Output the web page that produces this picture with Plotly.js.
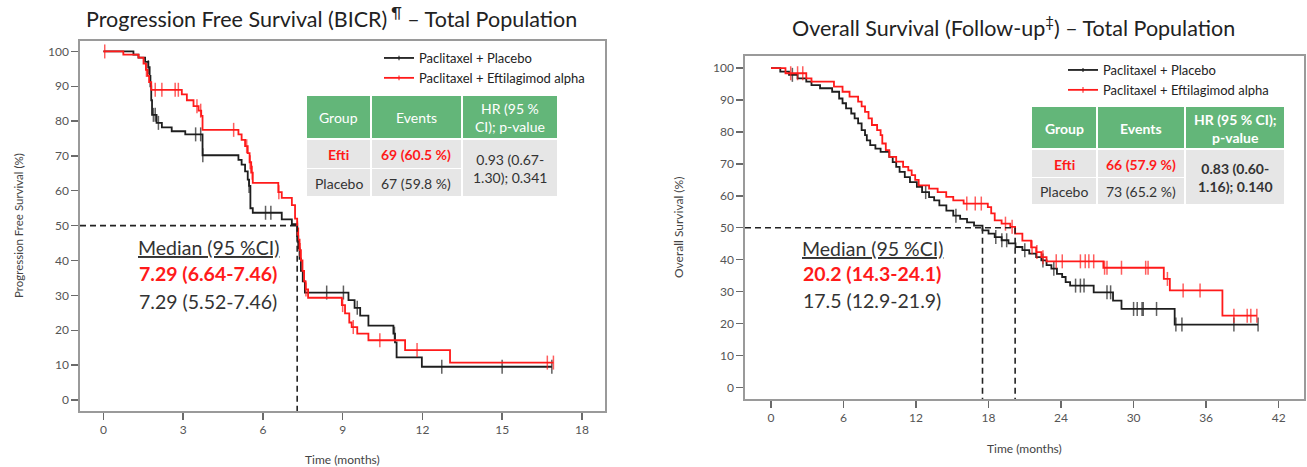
<!DOCTYPE html>
<html><head><meta charset="utf-8">
<script src="https://cdn.plot.ly/plotly-3.0.1.min.js"></script>
<style>html,body{margin:0;padding:0;background:#fff}#chart{width:1307px;height:467px}</style>
</head><body><div id="chart"></div>
<script>
// ---------------- DATA ----------------
const seriesNames = ['Paclitaxel + Placebo', 'Paclitaxel + Eftilagimod alpha'];

// PFS (BICR) - Placebo
const pfsPlaceboT = [0,1.13,1.32,1.57,1.69,1.74,1.77,1.80,1.83,2.0,2.2,2.57,3.08,3.73,5.08,5.20,5.33,5.43,5.48,5.53,5.62,6.71,7.09,7.29,7.33,7.38,7.43,7.50,7.58,9.22,9.45,9.66,9.97,10.91,10.97,11.03,11.98];
const pfsPlaceboS = [100,99.1,98.2,97.0,95.5,93.0,90.0,86.0,81.8,79.5,78.2,77.1,76.2,70.2,68.9,67.5,65.6,63.2,61.4,55.0,53.7,51.8,50.4,47.0,43.5,40.5,37.0,34.0,30.8,28.6,26.4,24.2,21.3,19.0,16.5,12.2,9.5];
const pfsPlaceboCens = [1.69,1.88,1.95,2.07,3.47,3.66,3.74,5.48,6.1,6.3,7.3,8.4,9.03,9.55,10.95,12.73,15.0,16.87];
const pfsPlaceboEnd = 16.87;

// PFS (BICR) - Eftilagimod alpha
const pfsEftiT = [0,0.75,1.32,1.51,1.60,1.66,1.72,1.80,2.95,3.14,3.39,3.58,3.68,3.73,5.08,5.20,5.33,5.43,5.50,5.56,5.62,6.58,6.71,7.09,7.21,7.29,7.33,7.38,7.43,7.49,7.55,7.61,7.70,8.97,9.09,9.25,9.34,9.55,9.97,11.35,13.04];
const pfsEftiS = [100,99.1,98.2,96.5,94.7,93.0,91.2,89.0,87.7,86.0,84.3,83.0,81.5,77.5,76.2,74.6,72.8,70.8,68.2,65.2,62.3,59.6,58.0,55.9,52.0,49.2,46.0,43.0,40.0,37.0,34.0,31.7,29.3,27.2,24.8,22.2,20.9,19.0,17.1,14.3,10.7];
const pfsEftiCens = [0.05,1.62,1.95,2.2,2.7,2.82,3.52,3.66,4.9,5.39,5.52,5.60,6.6,7.3,7.4,7.62,9.0,9.4,10.4,11.8,16.7,16.93];
const pfsEftiEnd = 16.93;

// OS (Follow-up) - Placebo
const osPlaceboT = [0,0.77,1.49,2.20,2.92,3.35,4.06,5.06,5.64,5.92,6.21,6.64,6.92,7.21,7.50,7.78,7.93,8.21,8.64,9.07,9.79,10.07,10.36,10.64,11.07,11.5,12.07,12.5,13.08,13.5,13.93,14.51,15.08,15.65,16.22,16.8,17.5,18.0,18.51,19.08,19.65,20.23,20.8,21.37,21.94,22.37,22.8,23.2,23.66,24.09,24.38,24.75,26.7,28.3,29.0,33.4];
const osPlaceboS = [100,98.9,97.9,96.8,95.8,94.7,93.7,92.6,90.5,89.0,87.4,85.8,84.3,82.7,80.6,79.0,77.4,75.9,74.8,73.8,72.2,70.6,69.1,67.5,65.9,64.3,62.8,61.2,59.6,58.6,57.0,55.4,53.8,52.8,51.7,50.7,49.2,48.2,47.1,46.1,45.1,44.0,43.0,41.9,40.8,39.8,38.3,37.2,35.6,34.6,33.0,31.9,29.8,27.2,24.6,19.7];
const osPlaceboCens = [1.77,12.8,15.3,18.6,19.1,19.5,21.0,22.5,23.4,25.2,25.6,25.9,27.8,28.1,30.0,30.3,30.7,30.8,31.9,33.5,34.0,38.3,40.3];
const osPlaceboEnd = 40.3;

// OS (Follow-up) - Eftilagimod alpha
const osEftiT = [0,1.2,2.92,3.35,5.21,5.92,6.50,7.21,7.50,7.78,8.07,8.35,8.78,9.07,9.21,9.50,9.79,10.36,10.93,11.36,11.64,11.93,12.22,13.08,13.79,14.5,15.08,15.94,17.94,18.22,18.51,19.08,19.8,20.2,20.8,21.52,21.94,22.37,22.8,27.5,32.5,33.0,37.35];
const osEftiS = [100,98.4,96.8,95.8,94.2,92.6,91.1,89.5,88.0,86.3,84.3,82.2,80.6,79.0,76.4,74.3,72.2,70.7,69.1,68.0,66.5,65.0,63.3,62.3,61.2,59.7,58.6,57.6,56.5,54.5,52.3,51.3,50.3,48.2,46.0,43.9,42.4,40.8,39.5,37.5,34.0,30.4,22.5];
const osEftiCens = [1.63,2.2,2.63,16.2,16.9,17.4,19.4,19.95,21.6,22.0,22.5,23.6,24.1,25.6,26.0,26.3,26.7,27.6,27.8,29.0,31.0,31.2,32.8,34.1,35.5,38.3,39.4,39.7,40.2];
const osEftiEnd = 40.2;

// Medians
const pfsMedian = [7.29, 7.29];   // [Efti, Placebo]
const osMedian = [20.2, 17.5];    // [Efti, Placebo]
const pfsMedianText = ['Median (95 %CI)', '7.29 (6.64-7.46)', '7.29 (5.52-7.46)'];
const osMedianText = ['Median (95 %CI)', '20.2 (14.3-24.1)', '17.5 (12.9-21.9)'];

// Tables
const pfsTableHeader = ['Group', 'Events', 'HR (95 %<br>CI); p-value'];
const pfsTableGroups = ['Efti', 'Placebo'];
const pfsTableEvents = ['69 (60.5 %)', '67 (59.8 %)'];
const pfsTableHR = '0.93 (0.67-<br>1.30); 0.341';
const osTableHeader = ['Group', 'Events', 'HR (95 % CI);<br>p-value'];
const osTableGroups = ['Efti', 'Placebo'];
const osTableEvents = ['66 (57.9 %)', '73 (65.2 %)'];
const osTableHR = '0.83 (0.60-<br>1.16); 0.140';

const pfsTicks = [0,3,6,9,12,15,18];
const osTicks = [0,6,12,18,24,30,36,42];
const yTicks = [0,10,20,30,40,50,60,70,80,90,100];

// ---------------- BUILD ----------------
const W = 1307, H = 467;
const FONT = 'Lato, "Open Sans", sans-serif';
const BLACK = '#1e1e1e', RED = '#ff1a1a', TXT = '#333333';
const px = v => v / W, py = v => 1 - v / H;

function buildKM(t, s, cens, end) {
  const sAt = x => { let v = s[0]; for (let i = 0; i < t.length; i++) if (t[i] <= x) v = s[i]; return v; };
  const pts = t.map((x, i) => ({x, y: s[i], c: 0}));
  cens.forEach(x => pts.push({x, y: sAt(x), c: 1}));
  if (cens.indexOf(end) < 0) pts.push({x: end, y: sAt(end), c: 0});
  pts.sort((a, b) => a.x - b.x || a.c - b.c);
  return {x: pts.map(p => p.x), y: pts.map(p => p.y), size: pts.map(p => p.c ? 10 : 0)};
}

function kmTrace(t, s, cens, end, color, name, xa, ya, legend, show) {
  const d = buildKM(t, s, cens, end);
  return {
    type: 'scatter', mode: 'lines+markers', x: d.x, y: d.y, name, xaxis: xa, yaxis: ya,
    legend, showlegend: show,
    line: {shape: 'hv', color, width: 1.8},
    marker: {symbol: 'line-ns', size: d.size, color, line: {color, width: 1.5}},
    hoverinfo: 'x+y'
  };
}

const traces = [
  kmTrace(pfsPlaceboT, pfsPlaceboS, pfsPlaceboCens, pfsPlaceboEnd, BLACK, seriesNames[0], 'x', 'y', 'legend', true),
  kmTrace(pfsEftiT, pfsEftiS, pfsEftiCens, pfsEftiEnd, RED, seriesNames[1], 'x', 'y', 'legend', true),
  kmTrace(osPlaceboT, osPlaceboS, osPlaceboCens, osPlaceboEnd, BLACK, seriesNames[0], 'x2', 'y2', 'legend2', true),
  kmTrace(osEftiT, osEftiS, osEftiCens, osEftiEnd, RED, seriesNames[1], 'x2', 'y2', 'legend2', true)
];

const pfsXRange = [-0.88, 18.87], osXRange = [-2.15, 44.1];
const pfsYRange = [-3.2, 103], osYRange = [-3.6, 103.8];

function axisBase() {
  return {
    showline: true, linecolor: '#9a9a9a', linewidth: 1.6, mirror: true,
    ticks: 'outside', ticklen: 7, tickwidth: 1.3, tickcolor: '#6a6a6a',
    showgrid: false, zeroline: false, fixedrange: true,
    tickfont: {family: FONT, size: 12, color: '#555'}
  };
}

const shapes = [];
const annotations = [];

// median dashed lines
const dash = {color: '#222', width: 1.6, dash: '6px,4px'};
shapes.push({type: 'line', xref: 'x', yref: 'y', x0: pfsXRange[0], x1: pfsMedian[0], y0: 50, y1: 50, line: dash});
shapes.push({type: 'line', xref: 'x', yref: 'y', x0: pfsMedian[0], x1: pfsMedian[0], y0: 50, y1: pfsYRange[0], line: dash});
shapes.push({type: 'line', xref: 'x2', yref: 'y2', x0: osXRange[0], x1: osMedian[0], y0: 50, y1: 50, line: dash});
osMedian.forEach(m => shapes.push({type: 'line', xref: 'x2', yref: 'y2', x0: m, x1: m, y0: 50, y1: osYRange[0], line: dash}));

// tables
const GREEN = '#63b679', GREY = '#e6e6e6';
const TFS = 14;
function addTable(cols, rows, header, groups, events, hr, boldBody) {
  const g = 1;
  for (let c = 0; c < 3; c++) {
    shapes.push({type: 'rect', xref: 'paper', yref: 'paper', x0: px(cols[c] + g), x1: px(cols[c + 1] - g),
      y0: py(rows[1] - g), y1: py(rows[0]), fillcolor: GREEN, line: {width: 0}, layer: 'above'});
    annotations.push({xref: 'paper', yref: 'paper', x: px((cols[c] + cols[c + 1]) / 2), y: py((rows[0] + rows[1]) / 2),
      text: boldBody ? '<b>' + header[c] + '</b>' : header[c], showarrow: false, xanchor: 'center', yanchor: 'middle',
      font: {family: FONT, size: TFS, color: '#ffffff'}});
  }
  for (let r = 0; r < 2; r++) {
    for (let c = 0; c < 2; c++) {
      shapes.push({type: 'rect', xref: 'paper', yref: 'paper', x0: px(cols[c] + g), x1: px(cols[c + 1] - g),
        y0: py(rows[r + 2]), y1: py(rows[r + 1] + g), fillcolor: GREY, line: {width: 0}, layer: 'above'});
    }
    const isEfti = r === 0;
    const txt = [groups[r], events[r]];
    for (let c = 0; c < 2; c++) {
      annotations.push({xref: 'paper', yref: 'paper', x: px((cols[c] + cols[c + 1]) / 2), y: py((rows[r + 1] + rows[r + 2]) / 2 + 1),
        text: isEfti ? '<b>' + txt[c] + '</b>' : txt[c], showarrow: false, xanchor: 'center', yanchor: 'middle',
        font: {family: FONT, size: TFS, color: isEfti ? RED : TXT}});
    }
  }
  shapes.push({type: 'rect', xref: 'paper', yref: 'paper', x0: px(cols[2] + g), x1: px(cols[3] - g),
    y0: py(rows[3]), y1: py(rows[1] + g), fillcolor: GREY, line: {width: 0}, layer: 'above'});
  annotations.push({xref: 'paper', yref: 'paper', x: px((cols[2] + cols[3]) / 2), y: py((rows[1] + rows[3]) / 2 + 1),
    text: boldBody ? '<b>' + hr + '</b>' : hr, showarrow: false, xanchor: 'center', yanchor: 'middle',
    font: {family: FONT, size: TFS, color: TXT}});
}
addTable([306, 371, 462, 558], [96, 139, 168, 196], pfsTableHeader, pfsTableGroups, pfsTableEvents, pfsTableHR, false);
addTable([1031, 1097, 1185, 1285], [107, 149, 177, 204], osTableHeader, osTableGroups, osTableEvents, osTableHR, true);

// median texts
function addMedian(cx, ys, texts) {
  annotations.push({xref: 'paper', yref: 'paper', x: px(cx), y: py(ys[0]), text: '<u>' + texts[0] + '</u>', showarrow: false,
    xanchor: 'center', yanchor: 'middle', font: {family: FONT, size: 19.5, color: TXT}});
  annotations.push({xref: 'paper', yref: 'paper', x: px(cx), y: py(ys[1]), text: '<b>' + texts[1] + '</b>', showarrow: false,
    xanchor: 'center', yanchor: 'middle', font: {family: FONT, size: 19.5, color: RED}});
  annotations.push({xref: 'paper', yref: 'paper', x: px(cx), y: py(ys[2]), text: texts[2], showarrow: false,
    xanchor: 'center', yanchor: 'middle', font: {family: FONT, size: 19.5, color: TXT}});
}
addMedian(208, [247, 273, 301], pfsMedianText);
addMedian(872, [248, 273, 300], osMedianText);

// titles
annotations.push({xref: 'paper', yref: 'paper', x: px(331), y: py(17), xanchor: 'center', yanchor: 'middle', showarrow: false,
  text: 'Progression Free Survival (BICR)<sup> ¶</sup> – Total Population', font: {family: FONT, size: 21.5, color: '#222'}});
annotations.push({xref: 'paper', yref: 'paper', x: px(1013), y: py(27), xanchor: 'center', yanchor: 'middle', showarrow: false,
  text: 'Overall Survival (Follow-up<sup>‡</sup>) – Total Population', font: {family: FONT, size: 21.5, color: '#222'}});

// axis titles
annotations.push({xref: 'paper', yref: 'paper', x: px(18), y: py(226), textangle: -90, xanchor: 'center', yanchor: 'middle', showarrow: false,
  text: 'Progression Free Survival (%)', font: {family: FONT, size: 11.5, color: '#444'}});
annotations.push({xref: 'paper', yref: 'paper', x: px(678), y: py(228), textangle: -90, xanchor: 'center', yanchor: 'middle', showarrow: false,
  text: 'Overall Survival (%)', font: {family: FONT, size: 12, color: '#444'}});
annotations.push({xref: 'paper', yref: 'paper', x: px(342), y: py(459), xanchor: 'center', yanchor: 'middle', showarrow: false,
  text: 'Time (months)', font: {family: FONT, size: 12, color: '#444'}});
annotations.push({xref: 'paper', yref: 'paper', x: px(1024), y: py(448), xanchor: 'center', yanchor: 'middle', showarrow: false,
  text: 'Time (months)', font: {family: FONT, size: 12, color: '#444'}});

const legendBase = {font: {family: FONT, size: 13, color: '#222'}, bgcolor: 'rgba(0,0,0,0)', borderwidth: 0,
  xanchor: 'left', yanchor: 'top', tracegroupgap: 0, itemclick: false, itemdoubleclick: false};

const layout = {
  width: W, height: H, margin: {l: 0, r: 0, t: 0, b: 0}, paper_bgcolor: '#fff', plot_bgcolor: '#fff',
  showlegend: true,
  xaxis: Object.assign(axisBase(), {domain: [px(80), px(605)], range: pfsXRange, tickvals: pfsTicks, anchor: 'y'}),
  yaxis: Object.assign(axisBase(), {domain: [py(411), py(41)], range: pfsYRange, tickvals: yTicks, anchor: 'x'}),
  xaxis2: Object.assign(axisBase(), {domain: [px(745), px(1304)], range: osXRange, tickvals: osTicks, anchor: 'y2'}),
  yaxis2: Object.assign(axisBase(), {domain: [py(399), py(56)], range: osYRange, tickvals: yTicks, anchor: 'x2'}),
  legend: Object.assign({}, legendBase, {x: px(379), y: py(43)}),
  legend2: Object.assign({}, legendBase, {x: px(1063), y: py(55)}),
  shapes, annotations,
  font: {family: FONT}
};

Plotly.newPlot('chart', traces, layout, {displayModeBar: false, staticPlot: true});
</script></body></html>
